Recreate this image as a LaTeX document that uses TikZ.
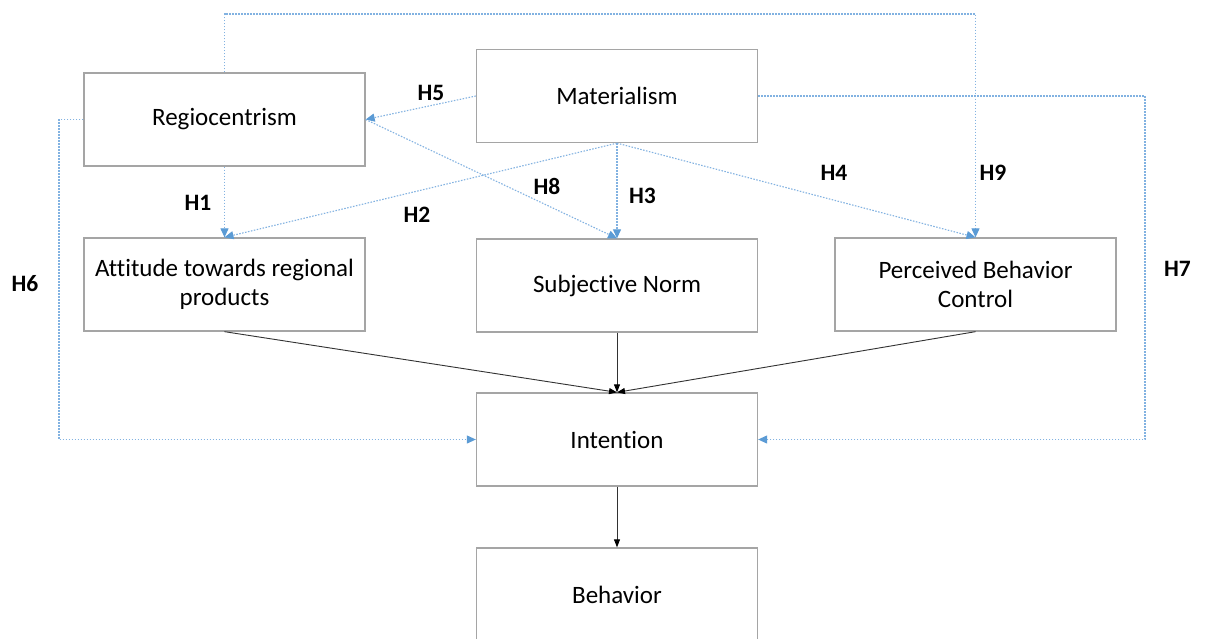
\documentclass[tikz,border=0pt]{standalone}
\usepackage{fontspec}
\setmainfont[Ligatures=NoCommon]{Carlito}
\usetikzlibrary{arrows.meta}
\definecolor{boxgray}{RGB}{165,165,165}
\definecolor{linkblue}{RGB}{91,155,213}
\definecolor{dotblue}{RGB}{130,178,225}
\definecolor{flowgray}{RGB}{50,50,50}

\begin{document}
\begin{tikzpicture}[x=1pt,y=-1pt,
  construct/.style={draw=boxgray, line width=1.3pt, minimum width=281pt, minimum height=93pt,
    align=center, font=\fontsize{25}{29}\selectfont, inner sep=0pt},
  hyp/.style={draw=dotblue, line width=1.1pt, dash pattern=on 1.5pt off 1.5pt,
    -{Triangle[length=9pt,width=8pt,fill=linkblue,color=linkblue]}},
  flow/.style={draw=flowgray, line width=0.9pt, -{Triangle[length=8pt,width=6pt,color=black]}},
  hlabel/.style={font=\fontsize{23.5}{27}\selectfont\bfseries, inner sep=0pt}
]
% canvas
\clip (0,0) rectangle (1205,638);
\fill[white] (0,0) rectangle (1205,638);

% constructs
\node[construct] (reg) at (224.5,119.5) {Regiocentrism};
\node[construct] (mat) at (617,96) {Materialism};
\node[construct] (att) at (224.5,284.5) {Attitude towards regional\\products};
\node[construct] (sn)  at (617,285.5) {Subjective Norm};
\node[construct] (pbc) at (975.5,284.5) {Perceived Behavior\\Control};
\node[construct] (int) at (617,439.5) {Intention};
\node[construct] (beh) at (617,594.5) {Behavior};

% bends of the routed hypotheses
\coordinate (h9turn) at (975.5,14);
\coordinate (h6turn) at (59,439.5);
\coordinate (h7turn) at (1145,439.5);

% hypothesised paths
\draw[hyp] (mat.west) -- (reg.east);
\draw[hyp] (reg.south) -- (att.north);
\draw[hyp] (mat.south) -- (att.north);
\draw[hyp] (reg.east) -- (sn.north);
\draw[hyp] (mat.south) -- (sn.north);
\draw[hyp] (mat.south) -- (pbc.north);
\draw[hyp] (reg.north) |- (h9turn) -- (pbc.north);
\draw[hyp] (reg.west) -| (h6turn) -- (int.west);
\draw[hyp] (mat.east) -| (h7turn) -- (int.east);

% theory of planned behaviour paths
\draw[flow] (att.south) -- (int.north);
\draw[flow] (sn.south) -- (int.north);
\draw[flow] (pbc.south) -- (int.north);
\draw[flow] (int.south) -- (beh.north);

% hypothesis labels
\node[hlabel] (l1) at (198,203) {H1};
\node[hlabel] (l2) at (417,215) {H2};
\node[hlabel] (l3) at (642.5,196) {H3};
\node[hlabel] (l4) at (834,173) {H4};
\node[hlabel] (l5) at (431,93) {H5};
\node[hlabel] (l6) at (25,284) {H6};
\node[hlabel] (l7) at (1177.5,269) {H7};
\node[hlabel] (l8) at (547,186) {H8};
\node[hlabel] (l9) at (993,173) {H9};
\end{tikzpicture}
\end{document}
